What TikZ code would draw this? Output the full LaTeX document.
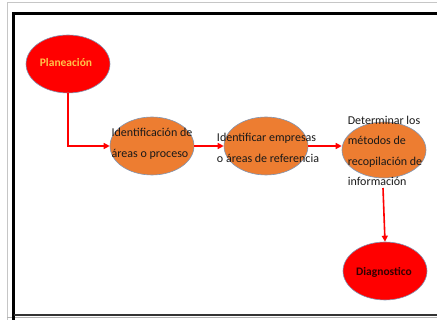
\documentclass[tikz,border=0pt]{standalone}
\usepackage{fontspec}
\setmainfont{Carlito}
\usetikzlibrary{shapes.geometric,arrows.meta}
\definecolor{ored}{HTML}{FF0000}
\definecolor{oorange}{HTML}{ED7D31}
\definecolor{eborder}{HTML}{8096B4}
\definecolor{ptext}{HTML}{FFC34A}
\tikzset{
  blob/.style={ellipse, draw=eborder, line width=0.6pt, minimum width=84pt, minimum height=58pt, inner sep=0pt},
  redblob/.style={blob, fill=ored},
  orangeblob/.style={blob, fill=oorange},
  lbl/.style={font=\fontsize{12}{20.5}\selectfont, align=left, text=black!90},
  flow/.style={draw=ored, line width=1.6pt, -{Triangle[length=6pt,width=6pt]}}
}
\begin{document}
\begin{tikzpicture}[x=1pt,y=-1pt]
\useasboundingbox (0,0) rectangle (437,320);
% frames
\draw[gray!45, line width=1pt] (7,330) -- (7,2.5) -- (445,2.5);
\draw[gray!60, line width=1pt] (7,317.5) -- (445,317.5);
\draw[black, line width=3pt] (13.5,330) -- (13.5,13.5) -- (445,13.5);
\draw[black!80, line width=1.5pt] (13.5,315) -- (445,315);
% nodes
\node[redblob] (plan) at (68,64) {};
\node[font=\fontsize{11.5}{12}\selectfont\bfseries, text=ptext] (plant) at (66,63) {Planeación};
\node[orangeblob] (ident) at (152,146) {};
\node[lbl] (identt) at (152,144) {Identificación de\\áreas o proceso};
\node[orangeblob] (empr) at (266,146) {};
\node[lbl] (emprt) at (268,148) {Identificar empresas\\o áreas de referencia};
\node[orangeblob, minimum height=56pt] (metd) at (384,150) {};
\node[lbl] (metdt) at (385,151) {Determinar los\\métodos de\\recopilación de\\información};
\node[redblob] (diag) at (385,271) {};
\node[font=\fontsize{11.5}{12}\selectfont\bfseries, text=black!80!red] (diagt) at (384,272) {Diagnostico};
% connectors
\coordinate (bend) at (68,146);
\draw[flow] (plan.south) -- (bend) -- (ident.west);
\draw[flow] (ident.east) -- (empr.west);
\draw[flow] (empr.east) -- (metd.west |- empr.east) ;
\coordinate (mstart) at (383,188);
\draw[flow] (mstart) -- (diag.north);
\end{tikzpicture}
\end{document}
